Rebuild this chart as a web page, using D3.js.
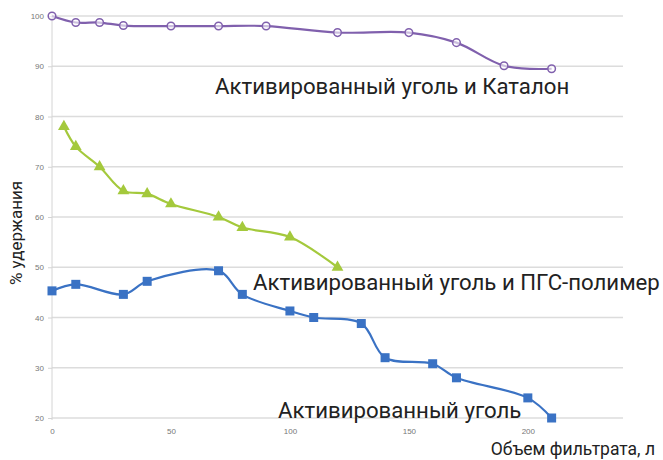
<!DOCTYPE html>
<html>
<head>
<meta charset="utf-8">
<script src="https://cdn.jsdelivr.net/npm/d3@7"></script>
<style>
  body { margin: 0; background: #fff; }
  svg { display: block; font-family: Roboto, sans-serif; }
</style>
</head>
<body>
<svg></svg>
<script>
// data
let xTicks = [0, 50, 100, 150, 200]
let yTicks = [20, 30, 40, 50, 60, 70, 80, 90, 100]

let catalonX = [0, 10, 20, 30, 50, 70, 90, 120, 150, 170, 190, 210]
let catalonY = [100, 98.7, 98.7, 98.1, 98, 98, 98, 96.7, 96.7, 94.7, 90.1, 89.5]

let polymerX = [5, 10, 20, 30, 40, 50, 70, 80, 100, 120]
let polymerY = [78, 74, 70, 65.2, 64.6, 62.6, 60, 57.9, 56, 50]

let carbonX = [0, 10, 30, 40, 70, 80, 100, 110, 130, 140, 160, 170, 200, 210]
let carbonY = [45.3, 46.6, 44.6, 47.2, 49.3, 44.6, 41.3, 40, 38.8, 32, 30.8, 28, 24, 20]

let seriesNames = ['Активированный уголь и Каталон', 'Активированный уголь и ПГС-полимер', 'Активированный уголь']

let width = 663
let height = 460
let plotLeft = 52
let plotRight = 623
let plotTop = 16
let plotBottom = 418

let svg = d3.select('svg').attr('width', width).attr('height', height)

let xScale = d3.scaleLinear().domain([0, 240]).range([plotLeft, plotRight])
let yScale = d3.scaleLinear().domain([20, 100]).range([plotBottom, plotTop])

// gridlines
svg.append('g')
   .selectAll('line')
   .data(yTicks)
   .enter()
   .append('line')
   .attr('x1', plotLeft)
   .attr('x2', plotRight)
   .attr('y1', d => yScale(d))
   .attr('y2', d => yScale(d))
   .attr('stroke', '#dcdcdc')
   .attr('stroke-width', 1.3)

let yAxis = svg.append('g')
   .attr('transform', 'translate(' + plotLeft + ',0)')
   .call(d3.axisLeft(yScale).tickValues(yTicks).tickSize(4).tickPadding(4))
yAxis.select('.domain').attr('stroke', '#d4d4d4').attr('d', 'M0,' + (plotTop - 2) + 'V' + (plotBottom + 2))
yAxis.selectAll('line').attr('stroke', '#d4d4d4')
yAxis.selectAll('text').attr('fill', '#777').style('font-size', '8px').style('font-family', 'Liberation Sans, sans-serif')

let xAxis = svg.append('g')
   .attr('transform', 'translate(0,' + plotBottom + ')')
   .call(d3.axisBottom(xScale).tickValues(xTicks).tickSize(0).tickPadding(10))
xAxis.select('.domain').remove()
xAxis.selectAll('text').attr('fill', '#777').style('font-size', '8px').style('font-family', 'Liberation Sans, sans-serif')

let curve = d3.curveCatmullRom.alpha(0.5)

let drawSeries = (xs, ys, color) => {
    let pts = xs.map((x, i) => [x, ys[i]])
    let line = d3.line().x(d => xScale(d[0])).y(d => yScale(d[1])).curve(curve)
    svg.append('path')
       .datum(pts)
       .attr('d', line)
       .attr('fill', 'none')
       .attr('stroke', color)
       .attr('stroke-width', 2.2)
    return svg.append('g').selectAll('path').data(pts).enter()
}

// purple: hollow circles
drawSeries(catalonX, catalonY, '#8060ad')
   .append('circle')
   .attr('cx', d => xScale(d[0]))
   .attr('cy', d => yScale(d[1]))
   .attr('r', 3.8)
   .attr('fill', '#fff')
   .attr('fill-opacity', 0.6)
   .attr('stroke', '#8060ad')
   .attr('stroke-width', 1.5)

// green: triangles
drawSeries(polymerX, polymerY, '#a4c93c')
   .append('path')
   .attr('d', d3.symbol().type(d3.symbolTriangle).size(60))
   .attr('transform', d => 'translate(' + xScale(d[0]) + ',' + yScale(d[1]) + ')')
   .attr('fill', '#a4c93c')

// blue: squares
drawSeries(carbonX, carbonY, '#3a72c4')
   .append('rect')
   .attr('x', d => xScale(d[0]) - 4.5)
   .attr('y', d => yScale(d[1]) - 4.5)
   .attr('width', 9)
   .attr('height', 9)
   .attr('fill', '#3a72c4')

// series labels
let labels = [
    {text: seriesNames[0], x: 215, y: 94},
    {text: seriesNames[1], x: 253, y: 290},
    {text: seriesNames[2], x: 278, y: 418}
]
svg.append('g')
   .selectAll('text')
   .data(labels)
   .enter()
   .append('text')
   .attr('x', d => d.x)
   .attr('y', d => d.y)
   .attr('fill', '#222')
   .style('font-size', '22.2px')
   .text(d => d.text)

svg.append('text')
   .attr('x', 655)
   .attr('y', 455)
   .attr('text-anchor', 'end')
   .attr('fill', '#222')
   .style('font-size', '17.5px')
   .text('Объем фильтрата, л')

svg.append('text')
   .attr('transform', 'translate(22,233) rotate(-90)')
   .attr('text-anchor', 'middle')
   .attr('fill', '#222')
   .style('font-size', '17px')
   .text('% удержания')
</script>
</body>
</html>
